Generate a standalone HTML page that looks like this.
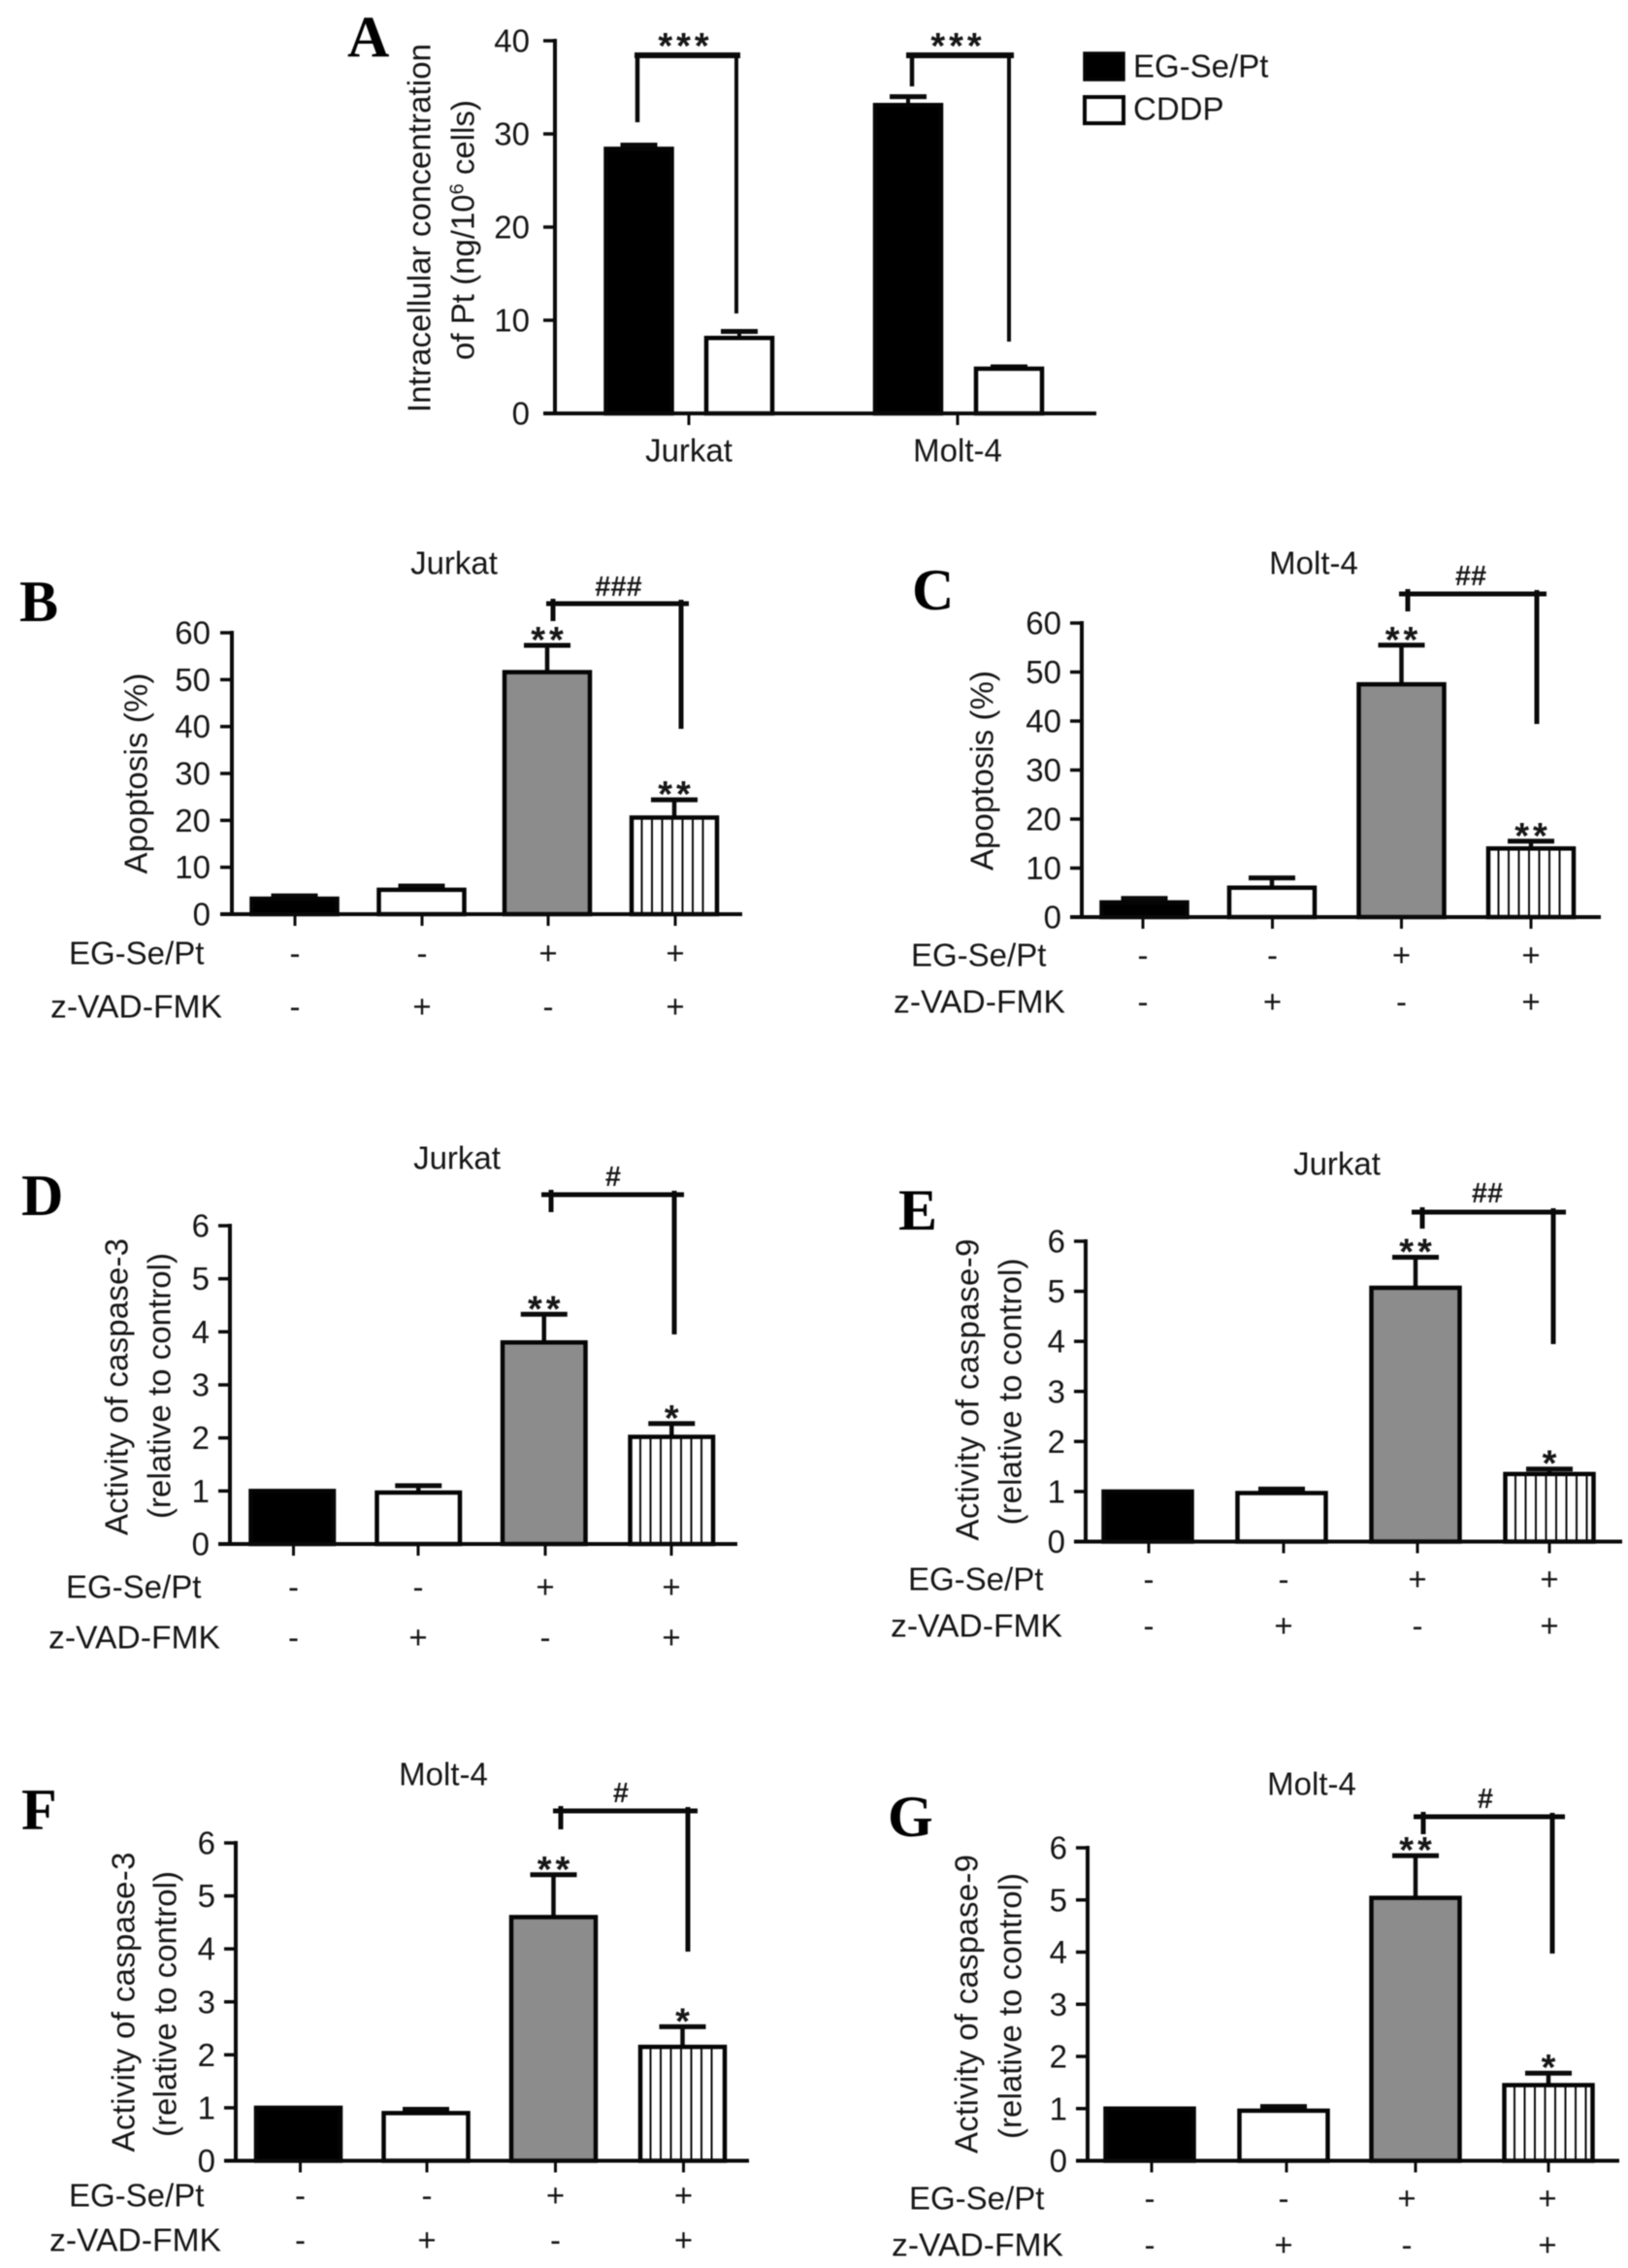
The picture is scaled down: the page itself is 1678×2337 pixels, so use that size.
<!DOCTYPE html>
<html lang="en">
<head>
<meta charset="utf-8">
<title>Intracellular Pt concentration, apoptosis and caspase activity</title>
<style>
html,body{margin:0;padding:0;background:#fff;}
#figure{display:block;width:1678px;height:2337px;filter:blur(.6px);}
text{font-family:"Liberation Sans",Arial,sans-serif;fill:#161616;}
.panel-letter{font-family:"Liberation Serif","Times New Roman",serif;font-weight:bold;fill:#000;}
</style>
</head>
<body>
<svg id="figure" xmlns="http://www.w3.org/2000/svg" width="1678" height="2337" viewBox="0 0 1678 2337"></svg>
<script>
/* ---------- data ---------- */
const groupLabels = ['Jurkat', 'Molt-4'];
const seriesLabels = ['EG-Se/Pt', 'CDDP'];
const panelATicks = [0, 10, 20, 30, 40];
const panelAEgSePt = [28.4, 33.1];
const panelAEgSePtUpper = [28.8, 34.0];
const panelACddp = [8.1, 4.8];
const panelACddpUpper = [8.8, 5.0];
const panelASignificance = ['***', '***'];

const egSePtRow = ['-', '-', '+', '+'];
const zVadFmkRow = ['-', '+', '-', '+'];
const apoptosisTicks = [0, 10, 20, 30, 40, 50, 60];
const activityTicks = [0, 1, 2, 3, 4, 5, 6];

const panelBValues = [3.3, 5.2, 51.6, 20.6];
const panelBUpper = [3.9, 6.0, 57.3, 24.4];
const panelBStars = ['', '', '**', '**'];

const panelCValues = [3.0, 6.0, 47.5, 14.0];
const panelCUpper = [3.8, 8.0, 55.5, 15.5];
const panelCStars = ['', '', '**', '**'];

const panelDValues = [1.0, 0.97, 3.8, 2.02];
const panelDUpper = [1.0, 1.1, 4.33, 2.27];
const panelDStars = ['', '', '**', '*'];

const panelEValues = [1.0, 0.97, 5.07, 1.35];
const panelEUpper = [1.0, 1.05, 5.68, 1.45];
const panelEStars = ['', '', '**', '*'];

const panelFValues = [1.0, 0.9, 4.6, 2.15];
const panelFUpper = [1.0, 0.97, 5.4, 2.53];
const panelFStars = ['', '', '**', '*'];

const panelGValues = [1.0, 0.96, 5.04, 1.45];
const panelGUpper = [1.0, 1.04, 5.85, 1.68];
const panelGStars = ['', '', '**', '*'];

/* ---------- layout ---------- */
const svg = document.getElementById('figure');
const NS = 'http://www.w3.org/2000/svg';
const FONT = 33;

function add(parent, tag, attrs, content) {
  const el = document.createElementNS(NS, tag);
  for (const k in attrs) el.setAttribute(k, attrs[k]);
  if (content !== undefined) el.textContent = content;
  parent.appendChild(el);
  return el;
}
function line(parent, x1, y1, x2, y2, w) {
  return add(parent, 'line', {x1: x1, y1: y1, x2: x2, y2: y2, stroke: '#0a0a0a', 'stroke-width': w});
}
function label(parent, x, y, str, size, anchor) {
  return add(parent, 'text', {x: x, y: y + size * 0.35, 'font-size': size, 'text-anchor': anchor || 'middle'}, str);
}
function rotatedLabel(parent, x, y, str, size, length) {
  const attrs = {transform: 'translate(' + x + ' ' + y + ') rotate(-90)', 'font-size': size, 'text-anchor': 'middle', y: size * 0.35};
  if (length) attrs.textLength = length;
  return add(parent, 'text', attrs, str);
}
function starLabel(parent, x, cy, str) {
  return add(parent, 'text', {x: x + 2, y: cy + 38 * 0.58, 'font-size': 38, 'font-weight': 'bold', 'letter-spacing': 4, 'text-anchor': 'middle'}, str);
}
function panelLetter(parent, x, y, str) {
  return add(parent, 'text', {x: x, y: y, 'font-size': 60, 'class': 'panel-letter'}, str);
}
function scaleY(p, v) {
  return p.y0 - (v / p.max) * (p.y0 - p.yTop);
}

const BAR_FILL = ['#000', '#fff', '#8c8c8c', '#fff'];

function drawPanel(p) {
  const g = add(svg, 'g', {});
  
  

  const letter = panelLetter(g, p.letterX, p.letterY, p.id.toUpperCase());
  
  

  const title = label(g, p.titleX, p.titleY, p.title, FONT);
  
  

  p.yTitles.forEach(function (t, i) {
    const yt = rotatedLabel(g, t.x, t.y, t.text, FONT, t.len);
    
    
  });

  p.values.forEach(function (v, i) {
    const cx = p.barCx[i];
    const top = scaleY(p, v);
    const left = cx - p.barW / 2;
    const upperY = scaleY(p, p.upper[i]);

    if (p.upper[i] > v) {
      const stem = line(g, cx, top, cx, upperY, 4.5);
      
      
      const cap = line(g, cx - 24, upperY, cx + 24, upperY, 5);
      
      
    }

    const bar = add(g, 'rect', {x: left, y: top, width: p.barW, height: p.y0 - top, fill: BAR_FILL[i], stroke: '#050505', 'stroke-width': 4.5});
    
    

    if (i === 3) {
      for (let sx = left + 10.5; sx < left + p.barW - 4; sx += 10.5) {
        const stripe = line(g, sx, top, sx, p.y0, 2);
        
        
      }
    }

    if (p.stars[i]) {
      const st = starLabel(g, cx, upperY - 15, p.stars[i]);
      
      
    }

    const tick = line(g, p.tickX[i], p.y0, p.tickX[i], p.y0 + 12, 3);
    
    

    const markX = p.markX ? p.markX[i] : p.tickX[i];
    const m1 = label(g, markX, p.row1Y, egSePtRow[i], FONT);
    
    

    const m2 = label(g, markX, p.row2Y, zVadFmkRow[i], FONT);
    
    
  });

  const yAxis = line(g, p.axisX, p.yTop - 2, p.axisX, p.y0, 4);
  
  

  const xAxis = line(g, p.axisX - 12, p.y0, p.xEnd, p.y0, 4);
  
  

  p.ticks.forEach(function (t) {
    const ty = scaleY(p, t);
    const tk = line(g, p.axisX - 12, ty, p.axisX, ty, 3.5);
    
    
    const tl = label(g, p.axisX - p.labelGap, ty, String(t), FONT, 'end');
    
    
  });

  const r1 = label(g, p.row1X, p.row1Y, 'EG-Se/Pt', FONT, 'start');
  
  
  const r2 = label(g, p.row2X, p.row2Y, 'z-VAD-FMK', FONT, 'start');
  r2.setAttribute('textLength', 177);
  r2.setAttribute('lengthAdjust', 'spacingAndGlyphs');
  
  

  const b = p.bracket;
  const bh = line(g, b.x1, b.y, b.x2, b.y, 5);
  
  
  const bl = line(g, b.leftX, b.y - 5, b.leftX, b.leftEnd, 5);
  
  
  const br = line(g, b.rightX, b.y - 4, b.rightX, b.rightEnd, 5);
  
  
  const hash = add(g, 'text', {x: b.hashX, y: b.hashY + 29 * 0.35, 'font-size': 29, 'font-weight': 'bold', 'text-anchor': 'middle'}, b.hash);
  
  
}

/* ---------- panel A ---------- */
(function () {
  const p = {y0: 426, yTop: 42, max: 40};
  const axisX = 572;
  const g = add(svg, 'g', {});
  
  

  const letter = panelLetter(g, 358, 58, 'A');
  
  

  const t1 = rotatedLabel(g, 432, 235, 'Intracellular concentration', FONT, 380);
  
  

  const t2 = rotatedLabel(g, 477, 237, 'of Pt (ng/10', FONT);
  
  
  const sup = add(t2, 'tspan', {'font-size': 20, dy: -11}, '6');
  
  
  const rest = add(t2, 'tspan', {dy: 11}, ' cells)');
  
  

  const barW = 68;
  const blackCx = [658.5, 936];
  const whiteCx = [762, 1040];
  const tickCx = [710, 987];
  const bracketX1 = [654, 934];
  const bracketX2 = [763, 1045];
  const leftX = [657, 940];
  const leftEnd = [126, 89];
  const rightX = [759, 1040];
  const rightEnd = [323, 352];

  groupLabels.forEach(function (name, i) {
    const c1 = line(g, blackCx[i], scaleY(p, panelAEgSePt[i]), blackCx[i], scaleY(p, panelAEgSePtUpper[i]), 4);
    
    
    const c2 = line(g, blackCx[i] - 19, scaleY(p, panelAEgSePtUpper[i]), blackCx[i] + 19, scaleY(p, panelAEgSePtUpper[i]), 5);
    
    
    const c3 = line(g, whiteCx[i], scaleY(p, panelACddp[i]), whiteCx[i], scaleY(p, panelACddpUpper[i]), 4);
    
    
    const c4 = line(g, whiteCx[i] - 19, scaleY(p, panelACddpUpper[i]), whiteCx[i] + 19, scaleY(p, panelACddpUpper[i]), 5);
    
    

    const b1 = add(g, 'rect', {x: blackCx[i] - barW / 2, y: scaleY(p, panelAEgSePt[i]), width: barW, height: p.y0 - scaleY(p, panelAEgSePt[i]), fill: '#000', stroke: '#050505', 'stroke-width': 4.5});
    
    
    const b2 = add(g, 'rect', {x: whiteCx[i] - barW / 2, y: scaleY(p, panelACddp[i]), width: barW, height: p.y0 - scaleY(p, panelACddp[i]), fill: '#fff', stroke: '#050505', 'stroke-width': 4.5});
    
    

    const tk = line(g, tickCx[i], p.y0, tickCx[i], p.y0 + 12, 3);
    
    
    const tl = label(g, tickCx[i], 464, name, FONT);
    
    

    const bt = line(g, bracketX1[i], 57, bracketX2[i], 57, 6);
    
    
    const bl = line(g, leftX[i], 57, leftX[i], leftEnd[i], 4.5);
    
    
    const br = line(g, rightX[i], 57, rightX[i], rightEnd[i], 4);
    
    
    const st = starLabel(g, (bracketX1[i] + bracketX2[i]) / 2 - 4, 38, panelASignificance[i]);
    
    
  });

  const ya = line(g, axisX, p.yTop - 2, axisX, p.y0, 4);
  
  
  const xa = line(g, axisX - 12, p.y0, 1130, p.y0, 4);
  
  

  panelATicks.forEach(function (t) {
    const ty = scaleY(p, t);
    const tk = line(g, axisX - 12, ty, axisX, ty, 3.5);
    
    
    const tl = label(g, axisX - 26, ty, String(t), FONT, 'end');
    
    
  });

  const s1 = add(g, 'rect', {x: 1118, y: 55, width: 40, height: 27, fill: '#000', stroke: '#050505', 'stroke-width': 3.5});
  
  
  const l1 = label(g, 1168, 68, seriesLabels[0], FONT, 'start');
  
  
  const s2 = add(g, 'rect', {x: 1118, y: 100, width: 40, height: 27, fill: '#fff', stroke: '#050505', 'stroke-width': 4});
  
  
  const l2 = label(g, 1168, 112, seriesLabels[1], FONT, 'start');
  
  
})();

/* ---------- panels B–G ---------- */
drawPanel({
  id: 'b', title: 'Jurkat', titleX: 468, titleY: 580, letterX: 20, letterY: 640, labelGap: 22,
  yTitles: [{x: 140, y: 797, text: 'Apoptosis (%)', len: 207}],
  axisX: 239, y0: 942, yTop: 652, max: 60, xEnd: 765, barW: 88,
  barCx: [303.5, 434.5, 564, 695], tickX: [304, 435, 565, 696],
  values: panelBValues, upper: panelBUpper, stars: panelBStars, ticks: apoptosisTicks,
  row1X: 71, row1Y: 982, row2X: 52, row2Y: 1037,
  bracket: {x1: 563, x2: 710, y: 622, leftX: 570, leftEnd: 640, rightX: 702, rightEnd: 751, hash: '###', hashX: 637.5, hashY: 604}
});
drawPanel({
  id: 'c', title: 'Molt-4', titleX: 1354, titleY: 580, letterX: 940, letterY: 628, labelGap: 21,
  yTitles: [{x: 1012, y: 794, text: 'Apoptosis (%)', len: 206}],
  axisX: 1115, y0: 945, yTop: 642, max: 60, xEnd: 1650, barW: 88,
  barCx: [1179.5, 1311, 1444.5, 1578], tickX: [1178, 1311.5, 1444.5, 1578],
  values: panelCValues, upper: panelCUpper, stars: panelCStars, ticks: apoptosisTicks,
  row1X: 939, row1Y: 984, row2X: 921, row2Y: 1032,
  bracket: {x1: 1442, x2: 1594, y: 612, leftX: 1451, leftEnd: 630, rightX: 1584, rightEnd: 746, hash: '##', hashX: 1516, hashY: 593}
});
drawPanel({
  id: 'd', title: 'Jurkat', titleX: 471, titleY: 1193, letterX: 22, letterY: 1252, labelGap: 21,
  yTitles: [
    {x: 120, y: 1429, text: 'Activity of caspase-3', len: 306},
    {x: 164, y: 1428, text: '(relative to control)', len: 274}
  ],
  axisX: 237, y0: 1591, yTop: 1263, max: 6, xEnd: 760, barW: 85.5,
  barCx: [301.25, 431.25, 560.75, 692.25], tickX: [302.5, 431, 562, 692],
  values: panelDValues, upper: panelDUpper, stars: panelDStars, ticks: activityTicks,
  row1X: 68, row1Y: 1635, row2X: 50, row2Y: 1687,
  bracket: {x1: 558, x2: 705, y: 1231, leftX: 568, leftEnd: 1249, rightX: 695, rightEnd: 1375, hash: '#', hashX: 632, hashY: 1212}
});
drawPanel({
  id: 'e', title: 'Jurkat', titleX: 1378, titleY: 1199, letterX: 926, letterY: 1267, labelGap: 21,
  yTitles: [
    {x: 997, y: 1432, text: 'Activity of caspase-9', len: 311},
    {x: 1041, y: 1434, text: '(relative to control)', len: 275}
  ],
  axisX: 1119, y0: 1588.5, yTop: 1279, max: 6, xEnd: 1672, barW: 91,
  barCx: [1183, 1321, 1459, 1597], tickX: [1184, 1323, 1461, 1597],
  values: panelEValues, upper: panelEUpper, stars: panelEStars, ticks: activityTicks,
  row1X: 936, row1Y: 1627, row2X: 918, row2Y: 1675,
  bracket: {x1: 1455, x2: 1614, y: 1249, leftX: 1466, leftEnd: 1266, rightX: 1601, rightEnd: 1385, hash: '##', hashX: 1533, hashY: 1229}
});
drawPanel({
  id: 'f', title: 'Molt-4', titleX: 457, titleY: 1828, letterX: 22, letterY: 1885, labelGap: 21,
  yTitles: [
    {x: 127, y: 2063, text: 'Activity of caspase-3', len: 309},
    {x: 170, y: 2065, text: '(relative to control)', len: 274}
  ],
  axisX: 243, y0: 2226.5, yTop: 1899, max: 6, xEnd: 772, barW: 87,
  barCx: [307.5, 439, 570.5, 703.5], tickX: [309.5, 440, 572.5, 704.5],
  values: panelFValues, upper: panelFUpper, stars: panelFStars, ticks: activityTicks,
  row1X: 71, row1Y: 2262, row2X: 51, row2Y: 2308,
  bracket: {x1: 570, x2: 719, y: 1866, leftX: 578, leftEnd: 1885, rightX: 709, rightEnd: 2011, hash: '#', hashX: 640, hashY: 1847}
});
drawPanel({
  id: 'g', title: 'Molt-4', titleX: 1352, titleY: 1838, letterX: 915, letterY: 1892, labelGap: 21,
  yTitles: [
    {x: 996, y: 2065, text: 'Activity of caspase-9', len: 308},
    {x: 1041, y: 2067, text: '(relative to control)', len: 274}
  ],
  axisX: 1121, y0: 2226.5, yTop: 1904, max: 6, xEnd: 1669, barW: 91,
  barCx: [1185, 1323, 1459, 1596], tickX: [1187, 1326, 1459, 1596], markX: [1185, 1323, 1450, 1595],
  values: panelGValues, upper: panelGUpper, stars: panelGStars, ticks: activityTicks,
  row1X: 937, row1Y: 2265, row2X: 919, row2Y: 2313,
  bracket: {x1: 1457, x2: 1613, y: 1872, leftX: 1467, leftEnd: 1890, rightX: 1600, rightEnd: 2013, hash: '#', hashX: 1531, hashY: 1853}
});
</script>
</body>
</html>
